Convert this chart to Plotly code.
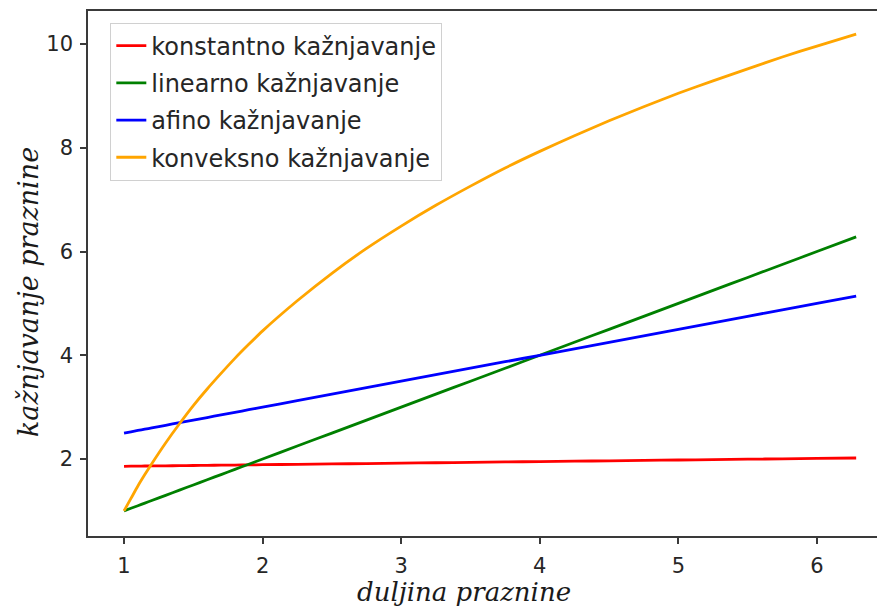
import plotly.graph_objects as go

# x values (gap length), from 1 to 2*pi
x_vals = [1.0, 1.05, 1.1, 1.15, 1.2, 1.3, 1.4, 1.5, 1.6, 1.7, 1.8, 1.9, 2.0, 2.25, 2.5, 2.75,
          3.0, 3.25, 3.5, 3.75, 4.0, 4.25, 4.5, 4.75, 5.0, 5.25, 5.5, 5.75, 6.0, 6.283]

# series values
konstantno = [1.860, 1.862, 1.863, 1.865, 1.866, 1.869, 1.872, 1.875, 1.878, 1.881, 1.884, 1.887,
              1.890, 1.898, 1.905, 1.913, 1.921, 1.928, 1.936, 1.943, 1.951, 1.958, 1.966, 1.974,
              1.981, 1.989, 1.996, 2.004, 2.012, 2.020]
linearno = [1.0, 1.05, 1.1, 1.15, 1.2, 1.3, 1.4, 1.5, 1.6, 1.7, 1.8, 1.9, 2.0, 2.25, 2.5, 2.75,
            3.0, 3.25, 3.5, 3.75, 4.0, 4.25, 4.5, 4.75, 5.0, 5.25, 5.5, 5.75, 6.0, 6.283]
afino = [2.5, 2.525, 2.55, 2.575, 2.6, 2.65, 2.7, 2.75, 2.8, 2.85, 2.9, 2.95, 3.0, 3.125, 3.25,
         3.375, 3.5, 3.625, 3.75, 3.875, 4.0, 4.125, 4.25, 4.375, 4.5, 4.625, 4.75, 4.875, 5.0, 5.14]
konveksno = [1.0, 1.24, 1.48, 1.70, 1.91, 2.31, 2.68, 3.03, 3.35, 3.65, 3.94, 4.21, 4.47, 5.05,
             5.58, 6.06, 6.49, 6.89, 7.26, 7.61, 7.93, 8.23, 8.52, 8.79, 9.05, 9.29, 9.52, 9.75,
             9.96, 10.19]

names = ["konstantno kažnjavanje", "linearno kažnjavanje", "afino kažnjavanje", "konveksno kažnjavanje"]
colors = ["#ff0000", "#008000", "#0000ff", "#ffa500"]
series = [konstantno, linearno, afino, konveksno]

x_ticks = [1, 2, 3, 4, 5, 6]
y_ticks = [2, 4, 6, 8, 10]

fig = go.Figure()
for i, (nm, col, ys) in enumerate(zip(names, colors, series)):
    fig.add_trace(go.Scatter(x=x_vals, y=ys, mode="lines", name=nm,
                             line=dict(color=col, width=2.8, shape="spline", smoothing=0.6),
                             legendgroup=f"g{i}"))

tick_font = dict(family="DejaVu Sans", size=21, color="#262626")

# page body has an 8px margin in the browser; figure is sized to compensate
fig.update_layout(
    width=877, height=602,
    margin=dict(l=80, r=0, t=3, b=74),
    paper_bgcolor="white", plot_bgcolor="white",
    showlegend=True,
    legend=dict(x=0.028, y=0.978, xanchor="left", yanchor="top",
                bgcolor="rgba(255,255,255,0.85)", bordercolor="#d0d0d0", borderwidth=1,
                font=dict(family="DejaVu Sans", size=24, color="#262626"),
                tracegroupgap=3, traceorder="grouped"),
    xaxis=dict(range=[0.740, 6.491], tickvals=x_ticks, ticktext=[str(t) for t in x_ticks],
               showgrid=False, zeroline=False, showline=True, mirror=True,
               linecolor="#3a3a3a", linewidth=1.6, ticks="outside", ticklen=6,
               tickwidth=1.6, tickcolor="#3a3a3a", tickfont=tick_font, ticklabelstandoff=4),
    yaxis=dict(range=[0.516, 10.636], tickvals=y_ticks, ticktext=[str(t) for t in y_ticks],
               showgrid=False, zeroline=False, showline=True, mirror=False,
               linecolor="#3a3a3a", linewidth=1.6, ticks="outside", ticklen=6,
               tickwidth=1.6, tickcolor="#3a3a3a", tickfont=tick_font, ticklabelstandoff=3),
    annotations=[
        dict(text="duljina praznine", xref="paper", yref="paper",
             x=(464 - 88) / 797, y=(536 - 592) / 525, xanchor="center", yanchor="middle",
             showarrow=False, font=dict(family="DejaVu Serif", size=26, color="#1a1a1a")),
        dict(text="kažnjavanje praznine", xref="paper", yref="paper",
             x=(28 - 88) / 797, y=(536 - 292) / 525, xanchor="center", yanchor="middle",
             textangle=-90, showarrow=False,
             font=dict(family="DejaVu Serif", size=27, color="#1a1a1a")),
    ],
)
fig.update_annotations(font_style="italic")

fig.write_html("out.html")
